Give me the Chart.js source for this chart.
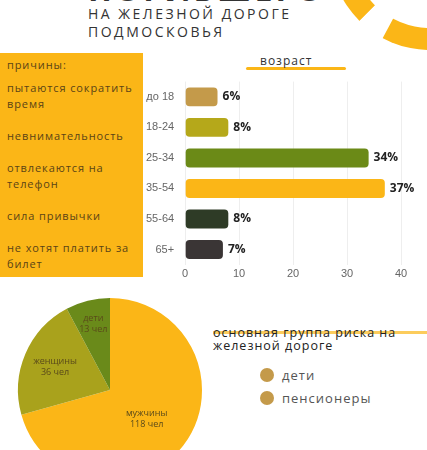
<!DOCTYPE html>
<html><head><meta charset="utf-8">
<script src="https://cdn.jsdelivr.net/npm/chart.js@4"></script>
<style>
body{margin:0;width:427px;height:450px;overflow:hidden;background:#fff;font-family:"Open Sans",sans-serif;position:relative}
.abs{position:absolute}
#title{left:88px;top:5px;font-size:14px;letter-spacing:2.5px;color:#333;line-height:18px}
#big{left:88px;top:-33px;font-size:32px;font-weight:bold;letter-spacing:3px;color:#333}
#sun{left:330px;top:-150px;width:200px;height:200px;border-radius:50%;border:22px dashed #FBB617;box-sizing:border-box}
#panel{left:0;top:53px;width:143px;height:224px;background:#FBB617;color:#5a4416;font-size:11px;letter-spacing:0.9px}
#panel div{position:absolute;left:7px;line-height:16px;white-space:nowrap}
#age{left:260px;top:52px;font-size:12px;letter-spacing:1px;color:#333}
#bar{left:143px;top:72px}
#pie{left:10px;top:290px}
#risk{left:213px;top:326px;font-size:12.5px;letter-spacing:1px;color:#222;line-height:13px}
.lg{font-size:13px;letter-spacing:1px;color:#555}
.dot{display:inline-block;width:14px;height:14px;border-radius:50%;background:#C49A4A;vertical-align:-2px;margin-right:8px}
</style></head><body>
<div id="sun" class="abs"></div>
<div id="big" class="abs">ПОГИБШЕГО</div>
<div id="title" class="abs">НА ЖЕЛЕЗНОЙ ДОРОГЕ<br>ПОДМОСКОВЬЯ</div>
<div id="panel" class="abs">
<div style="top:4px">причины:</div>
<div style="top:27px">пытаются сократить<br>время</div>
<div style="top:75px">невнимательность</div>
<div style="top:107px">отвлекаются на<br>телефон</div>
<div style="top:155px">сила привычки</div>
<div style="top:187px">не хотят платить за<br>билет</div>
</div>
<div class="abs" style="left:246px;top:67px;width:100px;height:3px;background:#FBB617;border-radius:2px"></div>
<div id="age" class="abs">возраст</div>
<canvas id="bar" class="abs" width="272" height="212"></canvas>
<canvas id="pie" class="abs" width="200" height="200"></canvas>
<div class="abs" style="left:213px;top:331px;width:214px;height:3px;background:#FBB617;opacity:.7"></div>
<div id="risk" class="abs">основная группа риска на<br>железной дороге</div>
<div class="abs lg" style="left:260px;top:366px"><span class="dot"></span>дети</div>
<div class="abs lg" style="left:260px;top:389px"><span class="dot"></span>пенсионеры</div>
<script>
const ageGroups = ['до 18','18-24','25-34','35-54','55-64','65+'];
const agePercent = [6, 8, 34, 37, 8, 7];
const ageColors = ['#C49A4A','#B5A81A','#6B8A17','#FBB617','#2E3B26','#3A3535'];
const pieLabels = ['мужчины','женщины','дети'];
const pieValues = [118, 36, 13];
const pieColors = ['#FBB617','#A9A21C','#6A8A1A'];

const barLabels = {
  id: 'barLabels',
  afterDatasetsDraw(chart) {
    const ctx = chart.ctx;
    ctx.save();
    ctx.font = 'bold 12px "Open Sans"';
    ctx.fillStyle = '#222';
    ctx.textBaseline = 'middle';
    chart.getDatasetMeta(0).data.forEach((b, i) => {
      ctx.fillText(agePercent[i] + '%', b.x + 5, b.y);
    });
    ctx.restore();
  }
};

new Chart(document.getElementById('bar'), {
  type: 'bar',
  data: { labels: ageGroups, datasets: [{ data: agePercent, backgroundColor: ageColors, borderRadius: 4, borderSkipped: false, barPercentage: 0.62, categoryPercentage: 1 }] },
  options: {
    indexAxis: 'y', responsive: false, animation: false,
    layout: { padding: { right: 14, top: 2 } },
    plugins: { legend: { display: false }, tooltip: { enabled: false } },
    scales: {
      x: { min: 0, max: 40, ticks: { stepSize: 10, color: '#666', font: { size: 11 } }, grid: { color: '#eee', drawTicks: false }, border: { display: false } },
      y: { ticks: { color: '#666', font: { size: 11 } }, grid: { display: false }, border: { display: false } }
    }
  },
  plugins: [barLabels]
});

const pieText = {
  id: 'pieText',
  afterDatasetsDraw(chart) {
    const ctx = chart.ctx;
    ctx.save();
    ctx.font = '9px "Open Sans"';
    ctx.fillStyle = '#5a4a1a';
    ctx.textAlign = 'center';
    chart.getDatasetMeta(0).data.forEach((a, i) => {
      const mid = (a.startAngle + a.endAngle) / 2;
      const r = a.outerRadius * (i === 0 ? 0.5 : i === 1 ? 0.65 : 0.75);
      const x = a.x + Math.cos(mid) * r, y = a.y + Math.sin(mid) * r;
      ctx.fillText(pieLabels[i], x, y - 2);
      ctx.fillText(pieValues[i] + ' чел', x, y + 9);
    });
    ctx.restore();
  }
};

new Chart(document.getElementById('pie'), {
  type: 'pie',
  data: { labels: pieLabels, datasets: [{ data: pieValues, backgroundColor: pieColors, borderWidth: 0 }] },
  options: { responsive: false, animation: false, layout: { padding: 8 }, plugins: { legend: { display: false }, tooltip: { enabled: false } } },
  plugins: [pieText]
});
</script>
</body></html>
